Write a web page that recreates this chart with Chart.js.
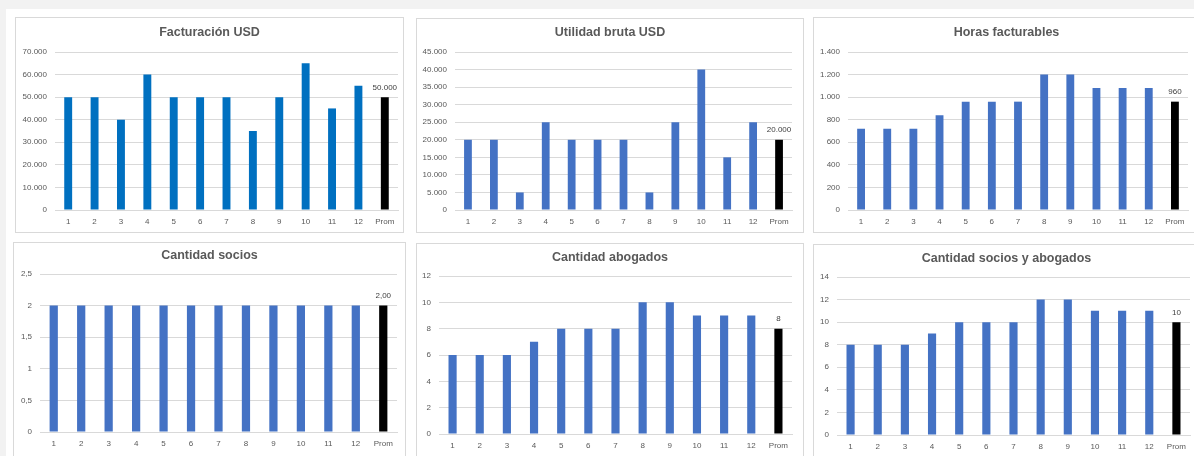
<!DOCTYPE html>
<html>
<head>
<meta charset="utf-8">
<script src="https://cdn.jsdelivr.net/npm/chart.js@4.4.0/dist/chart.umd.min.js"></script>
<style>
  html, body { margin: 0; padding: 0; }
  body { width: 1194px; height: 456px; background: #f2f2f2; position: relative; overflow: hidden; font-family: "Liberation Sans", Arial, sans-serif; }
  #sheet { position: absolute; left: 6px; top: 9px; right: -10px; bottom: -10px; background: #ffffff; }
  .panel { position: absolute; border: 1px solid #d9d9d9; background: #fff; box-sizing: border-box; }
  .panel canvas { position: absolute; left: 0; top: 0; }
  .title { position: absolute; font-weight: bold; font-size: 12.5px; color: #595959; line-height: 16px; white-space: nowrap; transform: translateX(-50%); }
</style>
</head>
<body>
<div id="sheet"></div>
<script>
// ---- DATA ----
const categories = ['1','2','3','4','5','6','7','8','9','10','11','12','Prom'];

const titles = ['Facturación USD', 'Utilidad bruta USD', 'Horas facturables', 'Cantidad socios', 'Cantidad abogados', 'Cantidad socios y abogados'];

const facturacion   = [50000, 50000, 40000, 60000, 50000, 50000, 50000, 35000, 50000, 65000, 45000, 55000, 50000];
const utilidad      = [20000, 20000, 5000, 25000, 20000, 20000, 20000, 5000, 25000, 40000, 15000, 25000, 20000];
const horas         = [720, 720, 720, 840, 960, 960, 960, 1200, 1200, 1080, 1080, 1080, 960];
const socios        = [2, 2, 2, 2, 2, 2, 2, 2, 2, 2, 2, 2, 2];
const abogados      = [6, 6, 6, 7, 8, 8, 8, 10, 10, 9, 9, 9, 8];
const sociosAbog    = [8, 8, 8, 9, 10, 10, 10, 12, 12, 11, 11, 11, 10];

const yTicksFact  = ['0','10.000','20.000','30.000','40.000','50.000','60.000','70.000'];
const yTicksUtil  = ['0','5.000','10.000','15.000','20.000','25.000','30.000','35.000','40.000','45.000'];
const yTicksHoras = ['0','200','400','600','800','1.000','1.200','1.400'];
const yTicksSoc   = ['0','0,5','1','1,5','2','2,5'];
const yTicksAbog  = ['0','2','4','6','8','10','12'];
const yTicksSA    = ['0','2','4','6','8','10','12','14'];

const promLabels = ['50.000', '20.000', '960', '2,00', '8', '10'];

// ---- LAYOUT / STYLE ----
const BLUE1 = '#0070C0', BLUE2 = '#4472C4', BLACK = '#000000';
const panels = [
  { data: facturacion, ticks: yTicksFact,  max: 70000, step: 10000, color: BLUE1, rect: [15, 17, 389, 216],  plot: [55, 398, 52, 210],  ty: 32 },
  { data: utilidad,    ticks: yTicksUtil,  max: 45000, step: 5000,  color: BLUE2, rect: [416, 18, 388, 215], plot: [455, 792, 52, 210], ty: 32 },
  { data: horas,       ticks: yTicksHoras, max: 1400,  step: 200,   color: BLUE2, rect: [813, 17, 387, 216], plot: [848, 1188, 52, 210], ty: 32 },
  { data: socios,      ticks: yTicksSoc,   max: 2.5,   step: 0.5,   color: BLUE2, rect: [13, 242, 393, 230], plot: [40, 397, 274, 432], ty: 255 },
  { data: abogados,    ticks: yTicksAbog,  max: 12,    step: 2,     color: BLUE2, rect: [416, 243, 388, 230], plot: [439, 792, 276, 434], ty: 257 },
  { data: sociosAbog,  ticks: yTicksSA,    max: 14,    step: 2,     color: BLUE2, rect: [813, 244, 387, 230], plot: [837, 1190, 277, 435], ty: 258 }
];

const FONT = '"Liberation Sans", Arial, sans-serif';

const promLabelPlugin = {
  id: 'promLabel',
  afterDatasetsDraw(chart, args, opts) {
    const meta = chart.getDatasetMeta(0);
    const el = meta.data[meta.data.length - 1];
    const ctx = chart.ctx;
    ctx.save();
    ctx.font = '8px ' + FONT;
    ctx.fillStyle = '#404040';
    ctx.textAlign = 'center';
    ctx.textBaseline = 'middle';
    ctx.fillText(opts.text, el.x, el.y - 9.5);
    ctx.restore();
  }
};

panels.forEach((p, i) => {
  const [px, py, pw, ph] = p.rect;
  const [L, R, T, B] = p.plot;
  const div = document.createElement('div');
  div.className = 'panel';
  div.style.left = px + 'px'; div.style.top = py + 'px';
  div.style.width = pw + 'px'; div.style.height = ph + 'px';
  const cw = pw - 2, ch = ph - 2;
  const cx = px + 1, cy = py + 1;
  const canvas = document.createElement('canvas');
  canvas.width = cw; canvas.height = ch;
  canvas.style.width = cw + 'px'; canvas.style.height = ch + 'px';
  div.appendChild(canvas);
  document.body.appendChild(div);

  const t = document.createElement('div');
  t.className = 'title';
  t.textContent = titles[i];
  t.style.left = (px + pw / 2) + 'px';
  t.style.top = (p.ty - 8) + 'px';
  document.body.appendChild(t);

  const yWidth = L - cx;
  const xHeight = cy + ch - B;
  const colors = p.data.map((v, k) => k === p.data.length - 1 ? BLACK : p.color);

  new Chart(canvas, {
    type: 'bar',
    data: {
      labels: categories,
      datasets: [{ data: p.data, backgroundColor: colors, borderWidth: 0, barPercentage: 0.3, categoryPercentage: 1.0 }]
    },
    options: {
      responsive: false,
      animation: false,
      devicePixelRatio: 1,
      layout: { padding: { top: T - cy, right: cx + cw - R, left: 0, bottom: 0 } },
      plugins: {
        legend: { display: false },
        tooltip: { enabled: false },
        title: { display: false },
        promLabel: { text: promLabels[i] }
      },
      scales: {
        x: {
          grid: { display: false, drawTicks: false },
          border: { display: true, color: '#d9d9d9' },
          ticks: { color: '#595959', font: { family: FONT, size: 8 }, padding: 7, maxRotation: 0, autoSkip: false },
          afterFit(scale) { scale.height = xHeight; }
        },
        y: {
          min: 0, max: p.max,
          grid: { color: '#d9d9d9', drawTicks: false, lineWidth: 1 },
          border: { display: false },
          ticks: {
            stepSize: p.step,
            color: '#595959',
            font: { family: FONT, size: 8 },
            padding: 8,
            callback: (v, idx) => p.ticks[idx]
          },
          afterFit(scale) { scale.width = yWidth; }
        }
      }
    },
    plugins: [promLabelPlugin]
  });
});
</script>
</body>
</html>
